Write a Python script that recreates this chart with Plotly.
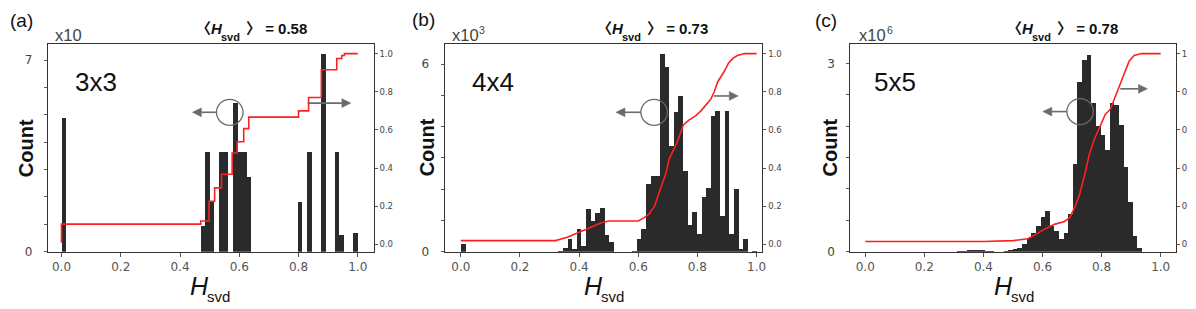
import numpy as np
import plotly.graph_objects as go

W, H = 1196, 309
N_BINS = 64
bin_edges = np.linspace(0.0, 1.0, N_BINS + 1)
bin_centers = 0.5 * (bin_edges[:-1] + bin_edges[1:])

# ---------------- data ----------------
# (a) 3x3 : counts in units of 10
bins_a = [0, 30, 31, 32, 34, 35, 37, 38, 39, 40, 51, 53, 56, 59, 60, 63]
counts_a = [4.91, 0.95, 3.64, 1.83, 3.64, 3.64, 5.43, 3.64, 3.64, 2.74,
            1.82, 3.64, 7.24, 3.64, 0.61, 0.71]
cdf_a_x = [0.0, 0.0, 0.47, 0.498, 0.517, 0.54, 0.576, 0.593, 0.615, 0.632,
           0.80, 0.834, 0.877, 0.929, 0.946, 0.955, 1.0]
cdf_a_y = [0.009, 0.106, 0.123, 0.226, 0.296, 0.368, 0.479, 0.538, 0.607, 0.667,
           0.70, 0.77, 0.915, 0.974, 0.99, 1.0, 1.0]

# (b) 4x4 : counts in units of 10^3
bins_b = [0, 21, 22, 23, 24, 25, 26, 27, 28, 29, 30, 31, 32,
          37, 38, 39, 40, 41, 42, 43, 44, 45, 46, 47, 48, 49, 50,
          51, 52, 53, 54, 55, 56, 57, 58, 59, 60, 61, 63]
counts_b = [0.27, 0.03, 0.14, 0.42, 0.10, 0.74, 0.19, 1.39, 1.00, 1.26, 1.42, 0.55, 0.31,
            0.03, 0.40, 0.74, 2.17, 2.43, 2.43, 6.33, 5.92, 3.39, 4.46, 4.98, 2.58, 0.86, 1.28,
            0.58, 1.75, 2.06, 4.35, 4.50, 1.15, 4.51, 0.58, 2.00, 0.10, 0.40, 0.03]
cdf_b_x = [0.0, 0.32, 0.36, 0.40, 0.43, 0.45, 0.475, 0.50, 0.60, 0.62, 0.637, 0.655,
           0.668, 0.68, 0.693, 0.705, 0.718, 0.73, 0.742, 0.752, 0.77, 0.795, 0.812,
           0.83, 0.845, 0.857, 0.868, 0.88, 0.892, 0.905, 0.92, 0.935, 0.96, 1.0]
cdf_b_y = [0.02, 0.02, 0.037, 0.063, 0.08, 0.097, 0.114, 0.123, 0.123, 0.14, 0.16, 0.20,
           0.26, 0.31, 0.37, 0.45, 0.49, 0.53, 0.58, 0.625, 0.65, 0.675, 0.70,
           0.73, 0.76, 0.80, 0.85, 0.88, 0.91, 0.95, 0.975, 0.99, 1.0, 1.0]

# (c) 5x5 : counts in units of 10^6
bins_c = [20, 21, 22, 23, 24, 25, 26, 27, 30, 31, 32, 33, 34, 35, 36, 37, 38, 39,
          40, 41, 42, 43, 44, 45, 46, 47, 48, 49, 50, 51, 52, 53, 54, 55, 56, 57, 58, 59]
counts_c = [0.01, 0.015, 0.02, 0.02, 0.025, 0.02, 0.015, 0.01, 0.005, 0.02, 0.04, 0.07,
            0.12, 0.22, 0.31, 0.42, 0.55, 0.65, 0.42, 0.34, 0.20, 0.31, 0.60, 1.40,
            2.71, 3.06, 3.14, 2.38, 2.01, 1.86, 1.62, 2.38, 2.35, 2.02, 1.36, 0.80, 0.26, 0.07]
cdf_c_x = [0.0, 0.40, 0.50, 0.55, 0.58, 0.607, 0.64, 0.674, 0.692, 0.708, 0.725, 0.742,
           0.758, 0.775, 0.795, 0.812, 0.83, 0.845, 0.86, 0.876, 0.893, 0.91, 0.935, 1.0]
cdf_c_y = [0.015, 0.015, 0.02, 0.03, 0.055, 0.08, 0.105, 0.12, 0.14, 0.19, 0.26, 0.36,
           0.47, 0.55, 0.62, 0.68, 0.71, 0.77, 0.83, 0.89, 0.96, 0.99, 1.0, 1.0]

panel_letters = ["(a)", "(b)", "(c)"]
size_labels = ["3x3", "4x4", "5x5"]
scale_base = "x10"
scale_exponents = ["", "3", "6"]
mean_values = [0.58, 0.73, 0.78]
count_max = [7, 6, 3]
count_minor = [list(range(0, 8)), list(range(0, 7)), [0, 0.5, 1, 1.5, 2, 2.5, 3]]
x_ticks = [0.0, 0.2, 0.4, 0.6, 0.8, 1.0]
cdf_ticks = [0.0, 0.2, 0.4, 0.6, 0.8, 1.0]

# ---------------- layout geometry (pixels) ----------------
PLOT_TOP, PLOT_BOTTOM = 36.5, 249.3
panel_px = [(40, 367), (438, 757), (845, 1172)]
x_ranges = [(-0.046, 1.054), (-0.055, 1.020), (-0.051, 1.052)]
yleft_ranges = [(0, 7.6), (0, 6.65), (0, 3.315)]
yright_range = (-0.038, 1.052)


def fx(p):
    return p / W


def fy(p):
    return 1 - p / H


BAR_COLOR = "#2a2a2a"
LINE_COLOR = "#333333"
TICK_COLOR = "#555555"
GRAY = "#6a6a6a"
TICK_FONT = "DejaVu Sans"
TEXT_FONT = "Liberation Sans, Arial, Noto Sans CJK SC"

data_sets = [
    (bins_a, counts_a, cdf_a_x, cdf_a_y, "hv"),
    (bins_b, counts_b, cdf_b_x, cdf_b_y, "linear"),
    (bins_c, counts_c, cdf_c_x, cdf_c_y, "linear"),
]

fig = go.Figure()
layout = dict(
    width=W, height=H, margin=dict(l=0, r=0, t=0, b=0), autosize=False,
    paper_bgcolor="white", plot_bgcolor="white", showlegend=False,
    bargap=0,
)

annotations = []
shapes = []

for i, (bins, counts, cx, cy, shape) in enumerate(data_sets):
    n = i + 1
    xa = f"x{n}" if n > 1 else "x"
    yl = 2 * i + 1
    yr = 2 * i + 2
    yl_name = f"y{yl}" if yl > 1 else "y"
    yr_name = f"y{yr}"
    centers = [bin_centers[k] for k in bins]
    fig.add_trace(go.Bar(x=centers, y=counts, width=1.0 / N_BINS,
                         marker=dict(color=BAR_COLOR, line=dict(width=0)),
                         xaxis=xa, yaxis=yl_name))
    fig.add_trace(go.Scatter(x=cx, y=cy, mode="lines",
                             line=dict(color="#ff1f1f", width=1.6, shape=shape),
                             xaxis=xa, yaxis=yr_name))

    x0p, x1p = panel_px[i]
    xkey = "xaxis" if n == 1 else f"xaxis{n}"
    ylkey = "yaxis" if yl == 1 else f"yaxis{yl}"
    yrkey = f"yaxis{yr}"
    layout[xkey] = dict(
        domain=[fx(x0p), fx(x1p)], range=list(x_ranges[i]), anchor=yl_name,
        showline=True, mirror=True, linecolor=LINE_COLOR, linewidth=1,
        ticks="outside", ticklen=4, tickcolor=TICK_COLOR, tickwidth=1,
        tickvals=x_ticks, tickformat=".1f",
        tickfont=dict(family=TICK_FONT, size=12, color="#555555"),
        showgrid=False, zeroline=False,
    )
    layout[ylkey] = dict(
        domain=[fy(PLOT_BOTTOM), fy(PLOT_TOP)], range=list(yleft_ranges[i]),
        anchor=xa, side="left",
        showline=True, linecolor=LINE_COLOR, linewidth=1,
        ticks="outside", ticklen=3, tickcolor=TICK_COLOR,
        tickvals=[0, count_max[i]], ticktext=["0", str(count_max[i])],
        minor=dict(tickvals=count_minor[i], ticks="outside", ticklen=3,
                   tickcolor=TICK_COLOR, showgrid=False),
        tickfont=dict(family=TICK_FONT, size=12, color="#444444"),
        ticklabelstandoff=9,
        showgrid=False, zeroline=False,
    )
    layout[yrkey] = dict(
        overlaying=yl_name, anchor=xa, side="right", range=list(yright_range),
        showline=True, linecolor=LINE_COLOR, linewidth=1,
        ticks="outside", ticklen=3, tickcolor=TICK_COLOR,
        tickvals=cdf_ticks, tickformat=".1f",
        tickfont=dict(family=TICK_FONT, size=8.5, color="#444444"),
        showgrid=False, zeroline=False,
    )

# ---------------- text & decorations ----------------
letter_pos = [(14, 13), (417, 12), (821, 13)]
scale_left = [46, 444, 853]
scale_exp_left = [None, 472, 881]
mean_left = [195, 597, 1008.3]
count_pos = [17.5, 420, 824.5]
hsvd_split = [202, 596.7, 1008.3]     # x where italic H ends and "svd" starts
size_pos = [88, 486.5, 890]
circle_c = [(222.5, 106.7), (648.3, 106.7), (1075.7, 106.0)]
left_tip = [(185.0, 106.7), (610.0, 106.7), (1038.3, 106.0)]
right_arrow = [((300.7, 97.3), (344.0, 97.3)), ((708.3, 90.0), (732.7, 90.0)),
               ((1116.0, 82.7), (1143.3, 82.7))]
R = 13.3
HEAD_LEN, HEAD_HW = 9.0, 4.5


def text(t, x, y, size, anchor="center", color="#111111", angle=0):
    return dict(text=t, x=fx(x), y=fy(y), xref="paper", yref="paper", showarrow=False,
                xanchor=anchor, yanchor="middle", textangle=angle, borderpad=0,
                font=dict(family=TEXT_FONT, size=size, color=color))


def arrow_shapes(x_start, x_tip, yc):
    """Horizontal arrow (pixel coords) drawn as a line plus a filled triangular head."""
    d = 1 if x_tip > x_start else -1
    base = x_tip - d * HEAD_LEN
    line = dict(type="line", xref="paper", yref="paper",
                x0=fx(x_start), x1=fx(base), y0=fy(yc), y1=fy(yc),
                line=dict(color=GRAY, width=1.6))
    path = (f"M {fx(x_tip)},{fy(yc)} L {fx(base)},{fy(yc - HEAD_HW)} "
            f"L {fx(base)},{fy(yc + HEAD_HW)} Z")
    head = dict(type="path", xref="paper", yref="paper", path=path,
                fillcolor=GRAY, line=dict(color=GRAY, width=0.5))
    return [line, head]


for i in range(3):
    annotations.append(text(panel_letters[i], letter_pos[i][0], letter_pos[i][1], 19))
    # axis multiplier "x10^n"
    annotations.append(text(scale_base, scale_left[i], 27.4, 16.5, anchor="left", color="#444444"))
    if scale_exponents[i]:
        annotations.append(text(scale_exponents[i], scale_exp_left[i], 22.5, 10.5,
                                anchor="left", color="#444444"))
    # mean value title  <H_svd> = value
    L = mean_left[i]
    annotations.append(text("<b>〈<i>H</i></b>", L + 22, 20.8, 15, anchor="right"))
    annotations.append(text("<b>svd</b>", L + 18, 29.5, 11, anchor="left"))
    annotations.append(text(f"<b>〉 = {mean_values[i]:.2f}</b>", L + 43, 20.8, 15, anchor="left"))
    # y title
    annotations.append(text("<b>Count</b>", count_pos[i], 143, 20, angle=-90))
    # x title  H_svd
    annotations.append(text("<i>H</i>", hsvd_split[i] + 1, 284, 25, anchor="right"))
    annotations.append(text("svd", hsvd_split[i] - 3, 295, 15, anchor="left"))
    # matrix size label
    annotations.append(text(size_labels[i], size_pos[i], 76, 26))
    # circle + arrows
    ccx, ccy = circle_c[i]
    shapes.append(dict(type="circle", xref="paper", yref="paper",
                       x0=fx(ccx - R), x1=fx(ccx + R), y0=fy(ccy + R), y1=fy(ccy - R),
                       line=dict(color=GRAY, width=1.3)))
    tx, ty = left_tip[i]
    shapes.extend(arrow_shapes(ccx - R, tx, ty))
    (sx, sy), (ex, ey) = right_arrow[i]
    shapes.extend(arrow_shapes(sx, ex, ey))

layout["annotations"] = annotations
layout["shapes"] = shapes
fig.update_layout(**layout)
fig.write_html("out.html")
